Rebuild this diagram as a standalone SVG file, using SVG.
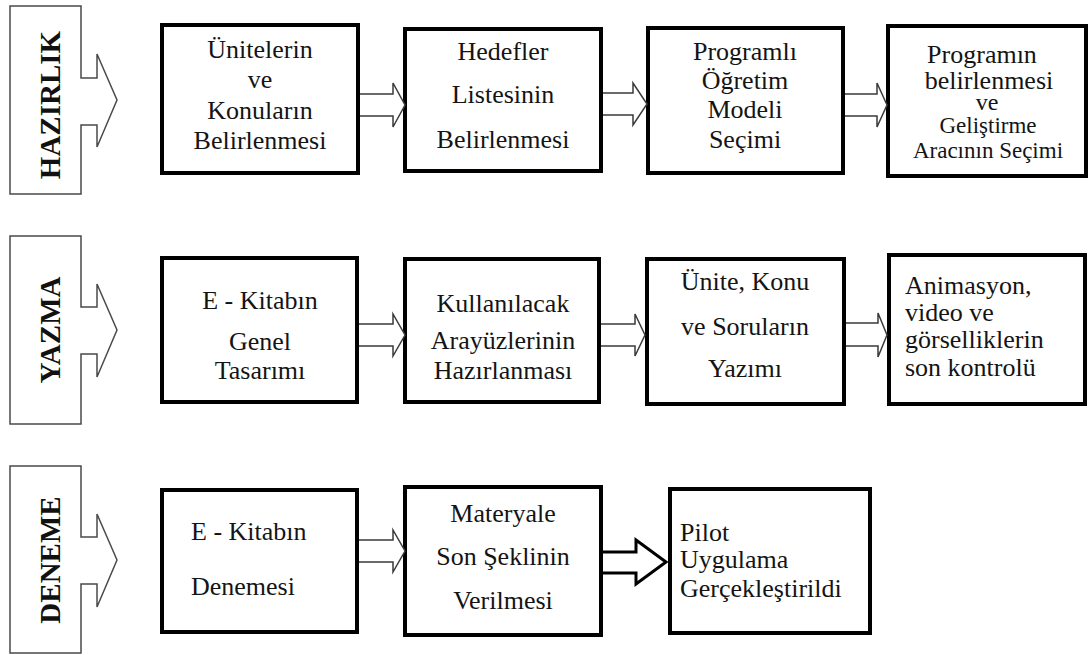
<svg xmlns="http://www.w3.org/2000/svg" width="1088" height="655" viewBox="0 0 1088 655">
  <style>
    .bg { fill: #ffffff; }
    .stage { fill: #ffffff; stroke: #4a4a4a; stroke-width: 1.5; stroke-linejoin: miter; }
    .stage-label { font-family: "Liberation Serif", "Times New Roman", serif; font-weight: bold; font-size: 29px; fill: #111111; text-anchor: middle; }
    .box { fill: #ffffff; stroke: #000000; stroke-width: 4; }
    .t { font-family: "Liberation Serif", "Times New Roman", serif; font-size: 26px; fill: #141414; }
    .c { text-anchor: middle; }
    .sm { font-size: 23px; }
    .xs { font-size: 24px; }
    .flow { fill: #ffffff; stroke: #3a3a3a; stroke-width: 1.5; stroke-linejoin: miter; }
    .flow-bold { fill: #ffffff; stroke: #000000; stroke-width: 3; stroke-linejoin: miter; }
  </style>

  <rect class="bg" x="0" y="0" width="1088" height="655"/>

  <!-- Stage markers (left column) -->
  <g id="stage-hazirlik">
    <path class="stage" d="M10,6 H81 V78 H97 V54 L117,100 L97,147 V125 H81 V194 H10 Z"/>
    <text class="stage-label" transform="translate(60,105) rotate(-90)">HAZIRLIK</text>
  </g>
  <g id="stage-yazma">
    <path class="stage" d="M10,236 H81 V307 H97 V284 L117,330 L97,377 V354 H81 V424 H10 Z"/>
    <text class="stage-label" transform="translate(60,330) rotate(-90)">YAZMA</text>
  </g>
  <g id="stage-deneme">
    <path class="stage" d="M10,466 H81 V537 H97 V514 L117,560 L97,607 V584 H81 V653 H10 Z"/>
    <text class="stage-label" transform="translate(60,560) rotate(-90)">DENEME</text>
  </g>

  <!-- Row 1: Hazırlık -->
  <g id="node-unitelerin">
    <rect class="box" x="162" y="25" width="196" height="148"/>
    <text class="t c" x="260" y="58">Ünitelerin</text>
    <text class="t c" x="260" y="88">ve</text>
    <text class="t c" x="260" y="119">Konuların</text>
    <text class="t c" x="260" y="149">Belirlenmesi</text>
  </g>
  <g id="node-hedefler">
    <rect class="box" x="405" y="29" width="196" height="142"/>
    <text class="t c" x="503" y="60">Hedefler</text>
    <text class="t c" x="503" y="103">Listesinin</text>
    <text class="t c" x="503" y="148">Belirlenmesi</text>
  </g>
  <g id="node-model">
    <rect class="box" x="648" y="28" width="195" height="145"/>
    <text class="t c" x="745" y="60">Programlı</text>
    <text class="t c" x="745" y="89">Öğretim</text>
    <text class="t c" x="745" y="118">Modeli</text>
    <text class="t c" x="745" y="148">Seçimi</text>
  </g>
  <g id="node-program">
    <rect class="box" x="888" y="26" width="198" height="150"/>
    <text class="t c" x="982" y="63">Programın</text>
    <text class="t c" x="989" y="89">belirlenmesi</text>
    <text class="t c xs" x="987" y="110">ve</text>
    <text class="t c sm" x="988" y="133">Geliştirme</text>
    <text class="t c sm" x="988" y="158">Aracının Seçimi</text>
  </g>

  <!-- Row 2: Yazma -->
  <g id="node-tasarim">
    <rect class="box" x="162" y="258" width="195" height="144"/>
    <text class="t c" x="260" y="309">E - Kitabın</text>
    <text class="t c" x="260" y="350">Genel</text>
    <text class="t c" x="260" y="379">Tasarımı</text>
  </g>
  <g id="node-arayuz">
    <rect class="box" x="405" y="259" width="194" height="143"/>
    <text class="t c" x="503" y="312">Kullanılacak</text>
    <text class="t c" x="503" y="349">Arayüzlerinin</text>
    <text class="t c" x="503" y="379">Hazırlanması</text>
  </g>
  <g id="node-yazim">
    <rect class="box" x="647" y="259" width="197" height="145"/>
    <text class="t c" x="745" y="290">Ünite, Konu</text>
    <text class="t c" x="745" y="335">ve Soruların</text>
    <text class="t c" x="745" y="377">Yazımı</text>
  </g>
  <g id="node-kontrol">
    <rect class="box" x="889" y="255" width="196" height="149"/>
    <text class="t" x="905" y="294">Animasyon,</text>
    <text class="t" x="905" y="321">video ve</text>
    <text class="t" x="905" y="348">görselliklerin</text>
    <text class="t" x="905" y="376">son kontrolü</text>
  </g>

  <!-- Row 3: Deneme -->
  <g id="node-deneme">
    <rect class="box" x="162" y="490" width="195" height="142"/>
    <text class="t" x="191" y="540">E - Kitabın</text>
    <text class="t" x="191" y="595">Denemesi</text>
  </g>
  <g id="node-materyal">
    <rect class="box" x="405" y="487" width="196" height="148"/>
    <text class="t c" x="503" y="522">Materyale</text>
    <text class="t c" x="503" y="565">Son Şeklinin</text>
    <text class="t c" x="503" y="609">Verilmesi</text>
  </g>
  <g id="node-pilot">
    <rect class="box" x="670" y="489" width="200" height="144"/>
    <text class="t" x="680" y="541">Pilot</text>
    <text class="t" x="680" y="568">Uygulama</text>
    <text class="t" x="680" y="597">Gerçekleştirildi</text>
  </g>

  <!-- Connectors: outlined block arrows between steps -->
  <g id="connectors">
    <path class="flow" d="M360,94 H393 V83 L405,105 L393,127 V116 H360"/>
    <path class="flow" d="M603,93 H633 V83 L647,104 L633,125 V115 H603"/>
    <path class="flow" d="M845,94 H877 V83 L887,105 L877,127 V116 H845"/>

    <path class="flow" d="M359,324 H393 V314 L405,335 L393,356 V346 H359"/>
    <path class="flow" d="M601,324 H635 V314 L645,335 L635,356 V346 H601"/>
    <path class="flow" d="M846,323 H878 V313 L887,335 L878,357 V346 H846"/>

    <path class="flow" d="M359,540 H393 V530 L405,551 L393,572 V562 H359"/>
    <path class="flow-bold" d="M603,552 H636 V540 L666,562 L636,584 V573 H603"/>
  </g>
</svg>
